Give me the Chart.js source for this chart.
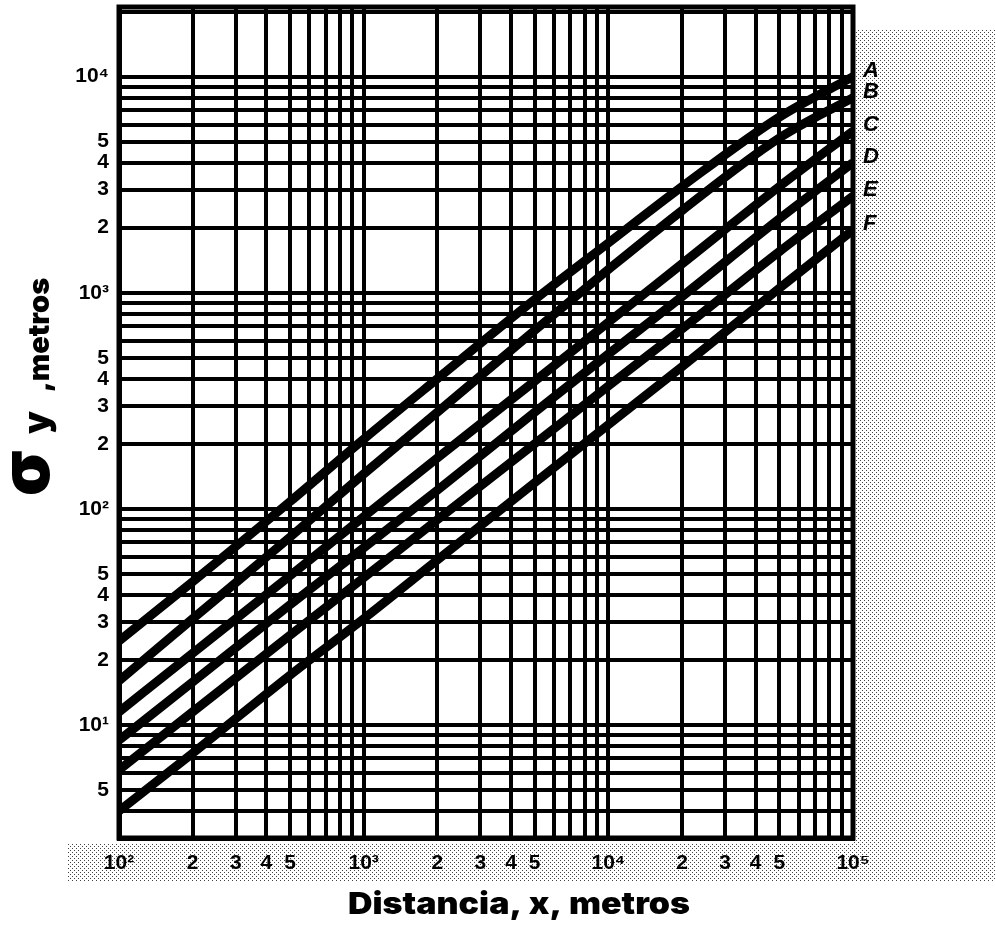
<!DOCTYPE html>
<html>
<head>
<meta charset="utf-8">
<script src="https://cdn.jsdelivr.net/npm/chart.js@4.4.1/dist/chart.umd.min.js"></script>
<style>
    html, body { margin: 0; padding: 0; background: #fff; }
</style>
</head>
<body>
<canvas id="sigmaChart" width="995" height="943"></canvas>
<script>
// distances (m) and sigma-y (m) per stability class
const distances = [100, 200, 500, 1000, 2000, 5000, 10000, 20000, 50000, 100000];
const classes = ['A', 'B', 'C', 'D', 'E', 'F'];
const sigmaA = [24.5, 46, 108, 210, 400, 930, 1700, 3100, 6500, 10000];
const sigmaB = [16, 31, 74, 145, 280, 670, 1280, 2400, 5200, 8000];
const sigmaC = [11.5, 21.5, 49, 92, 172, 390, 730, 1360, 3100, 5600];
const sigmaD = [8.5, 15.8, 36, 66, 122, 280, 520, 960, 2200, 4000];
const sigmaE = [6.2, 11.5, 26, 48, 89, 200, 370, 680, 1550, 2800];
const sigmaF = [4.0, 7.4, 17, 31, 58, 132, 245, 455, 1050, 1950];

// grid lines sit on every 1..9 multiple of a decade
const gridSteps = [1, 2, 3, 4, 5, 6, 7, 8, 9];
const xDecades = [100, 1000, 10000, 100000];
const yDecades = [1, 10, 100, 1000, 10000];
const xRange = [100, 100000];
const yRange = [3, 21000];

const xLabelValues = [100, 200, 300, 400, 500, 1000, 2000, 3000, 4000, 5000, 10000, 20000, 30000, 40000, 50000, 100000];
const xLabelText = ['10²', '2', '3', '4', '5', '10³', '2', '3', '4', '5', '10⁴', '2', '3', '4', '5', '10⁵'];
const yLabelValues = [5, 10, 20, 30, 40, 50, 100, 200, 300, 400, 500, 1000, 2000, 3000, 4000, 5000, 10000];
const yLabelText = ['5', '10¹', '2', '3', '4', '5', '10²', '2', '3', '4', '5', '10³', '2', '3', '4', '5', '10⁴'];

const ink = '#000';
const tickFont = { family: 'Liberation Sans', weight: 'bold', size: 21 };

function gridValues(decades, range) {
    const out = [];
    decades.forEach(d => gridSteps.forEach(m => {
        const v = m * d;
        if (v >= range[0] && v <= range[1] && !out.includes(v)) out.push(v);
    }));
    return out;
}

function labelFor(values, texts) {
    return value => {
        const i = values.findIndex(v => Math.abs(v - value) < 1e-6);
        return i >= 0 ? texts[i] : '';
    };
}

// halftone-ish dot tile for the grey paper areas
function dotTile(size, dots) {
    const c = document.createElement('canvas');
    c.width = size;
    c.height = size;
    const g = c.getContext('2d');
    g.fillStyle = '#fff';
    g.fillRect(0, 0, size, size);
    g.fillStyle = '#444';
    dots.forEach(([x, y]) => g.fillRect(x, y, 1, 1));
    return c;
}
const paperTile = dotTile(4, [[0, 0], [2, 2]]);

const paperPlugin = {
    id: 'paper',
    beforeDraw(chart) {
        const { ctx, chartArea: a } = chart;
        ctx.save();
        ctx.fillStyle = '#fff';
        ctx.fillRect(0, 0, chart.width, chart.height);
        ctx.fillStyle = ctx.createPattern(paperTile, 'repeat');
        ctx.fillRect(a.right, 30, chart.width - a.right, a.bottom + 44 - 30);
        ctx.fillRect(68, a.bottom + 5, a.right - 68, 39);
        ctx.restore();
    },
    afterDatasetsDraw(chart) {
        const { ctx, chartArea: a } = chart;
        ctx.save();
        ctx.strokeStyle = ink;
        ctx.lineWidth = 5;
        ctx.strokeRect(a.left, a.top, a.right - a.left, a.bottom - a.top);

        // class letters beside the line ends
        ctx.fillStyle = ink;
        ctx.font = 'italic bold 22px "Liberation Sans"';
        ctx.textBaseline = 'middle';
        chart.data.datasets.forEach((ds, i) => {
            const pts = chart.getDatasetMeta(i).data;
            const end = pts[pts.length - 1];
            ctx.fillText(ds.label, a.right + 10, end.y - 6);
        });
        ctx.restore();
    },
    afterDraw(chart) {
        const { ctx } = chart;
        ctx.save();
        ctx.fillStyle = ink;

        // y title, read bottom to top
        ctx.translate(49, 496);
        ctx.rotate(-Math.PI / 2);
        ctx.textBaseline = 'alphabetic';
        ctx.font = '900 68px Inter';
        ctx.fillText('σ', 0, 0);
        ctx.font = '900 36px Inter';
        ctx.fillText('y', 62, 0);
        ctx.font = '900 29px Inter';
        ctx.fillText(',metros', 104, 0);
        ctx.restore();

        // x title, heavy and condensed
        ctx.save();
        ctx.fillStyle = ink;
        ctx.font = '900 30px Inter';
        const text = 'Distancia, x, metros';
        const w = ctx.measureText(text).width;
        ctx.translate(519, 914);
        ctx.scale(342 / w, 1);
        ctx.textAlign = 'center';
        ctx.textBaseline = 'alphabetic';
        ctx.fillText(text, 0, 0);
        ctx.restore();
    },
};

const series = [sigmaA, sigmaB, sigmaC, sigmaD, sigmaE, sigmaF];

new Chart(document.getElementById('sigmaChart'), {
    type: 'line',
    data: {
        datasets: series.map((s, i) => ({
            label: classes[i],
            data: distances.map((x, j) => ({ x, y: s[j] })),
            borderColor: ink,
            borderWidth: 9,
            pointRadius: 0,
            cubicInterpolationMode: 'monotone',
            fill: false,
        })),
    },
    options: {
        responsive: false,
        animation: false,
        layout: { padding: { left: 0, right: 142, top: 7, bottom: 0 } },
        plugins: {
            legend: { display: false },
            tooltip: { enabled: false },
        },
        scales: {
            x: {
                type: 'logarithmic',
                min: xRange[0],
                max: xRange[1],
                afterBuildTicks: scale => {
                    scale.ticks = gridValues(xDecades, xRange).map(value => ({ value }));
                },
                afterFit: scale => {
                    scale.height = 105;
                    scale.paddingLeft = 0;
                    scale.paddingRight = 0;
                },
                grid: { color: ink, lineWidth: 4, drawTicks: false },
                border: { color: ink, width: 5 },
                ticks: {
                    autoSkip: false,
                    maxRotation: 0,
                    padding: 13,
                    color: ink,
                    font: tickFont,
                    callback: labelFor(xLabelValues, xLabelText),
                },
            },
            y: {
                type: 'logarithmic',
                min: yRange[0],
                max: yRange[1],
                afterBuildTicks: scale => {
                    scale.ticks = gridValues(yDecades, yRange).map(value => ({ value }));
                },
                afterFit: scale => {
                    scale.width = 119;
                    scale.paddingTop = 0;
                    scale.paddingBottom = 0;
                },
                grid: { color: ink, lineWidth: 4, drawTicks: false },
                border: { color: ink, width: 5 },
                ticks: {
                    autoSkip: false,
                    padding: 10,
                    color: ink,
                    font: tickFont,
                    callback: labelFor(yLabelValues, yLabelText),
                },
            },
        },
    },
    plugins: [paperPlugin],
});
</script>
</body>
</html>
